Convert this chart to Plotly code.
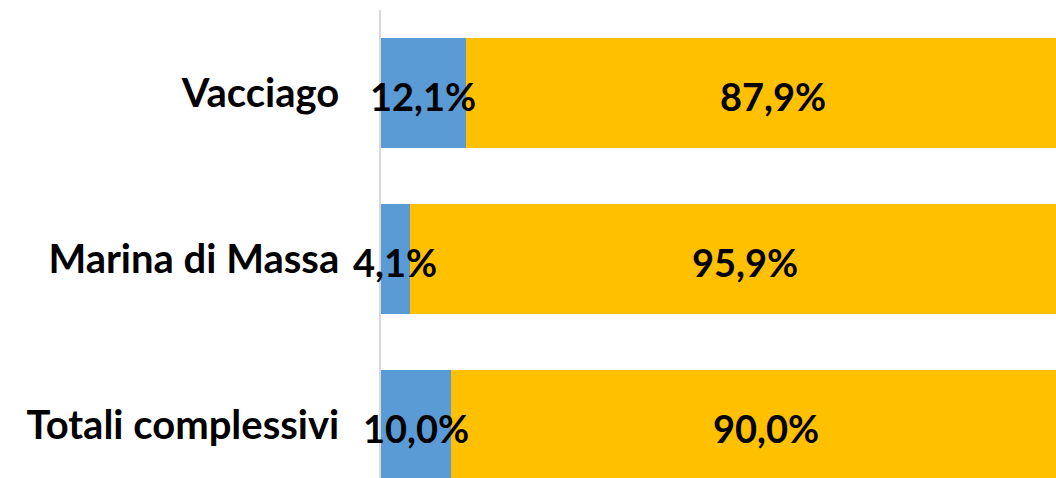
import plotly.graph_objects as go

categories = ["Vacciago", "Marina di Massa", "Totali complessivi"]
share_a = [12.1, 4.1, 10.0]
share_b = [87.9, 95.9, 90.0]
labels_a = ["12,1%", "4,1%", "10,0%"]
labels_b = ["87,9%", "95,9%", "90,0%"]

FONT = "Lato"
txt = dict(family=FONT, size=38, color="black", weight=700)

fig = go.Figure()
fig.add_trace(go.Bar(
    y=categories, x=share_a, orientation="h",
    marker=dict(color="#5B9BD5", line=dict(width=0)),
    hoverinfo="skip",
))
fig.add_trace(go.Bar(
    y=categories, x=share_b, orientation="h",
    marker=dict(color="#FFC000", line=dict(width=0)),
    hoverinfo="skip",
))

# data labels centred in each segment (positions derived from the data)
centers_a = [a / 2 for a in share_a]
centers_b = [a + b / 2 for a, b in zip(share_a, share_b)]
for cat, xa, la, xb, lb in zip(categories, centers_a, labels_a, centers_b, labels_b):
    for xc, lab in ((xa, la), (xb, lb)):
        fig.add_annotation(
            x=xc, y=cat, xref="x", yref="y", text=lab, showarrow=False,
            font=txt, xanchor="center", yanchor="middle", yshift=-3,
        )

fig.update_layout(
    width=1056, height=478,
    margin=dict(l=381, r=0, t=10, b=0),
    barmode="stack", bargap=0.337,
    plot_bgcolor="white", paper_bgcolor="white",
    showlegend=False,
    xaxis=dict(range=[0, 96.43], visible=False, showgrid=False, zeroline=False),
    yaxis=dict(
        categoryorder="array", categoryarray=categories,
        range=[2.319, -0.5],
        showline=True, linecolor="#D9D9D9", linewidth=1.5,
        layer="below traces",
        showgrid=False, zeroline=False, ticks="",
        ticklabelstandoff=32,
        tickfont=dict(family=FONT, size=40, color="black", weight=700),
    ),
)

fig.write_html(
    "out.html",
    config={"displayModeBar": False},
    post_script="document.body.style.margin='0';document.body.style.overflow='hidden';",
)
